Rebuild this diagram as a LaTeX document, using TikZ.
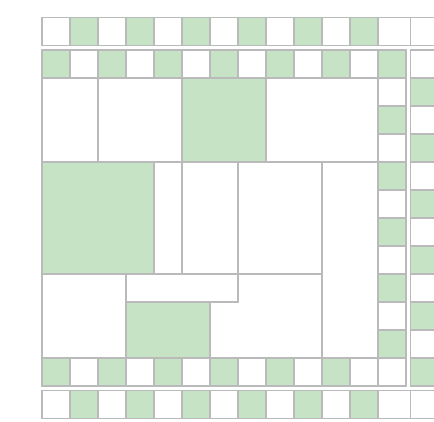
\documentclass[tikz,border=0pt]{standalone}
\usepackage{xcolor}
\usepackage{tikz}
\definecolor{cellgreen}{RGB}{198,228,197}
\definecolor{cellline}{RGB}{186,186,186}

\begin{document}
\begin{tikzpicture}[x=0.7cm, y=-0.7cm,
  cellbox/.style={draw=cellline, line width=0.8pt, fill=white},
  greencell/.style={cellbox, fill=cellgreen}
]
\def\g{0.15}
\fill[white] (-1.5,-2.786) rectangle (14,12.25);
\useasboundingbox (-1.5,-2.786) rectangle (14,12.25);
\begin{scope}
\clip (-1.5,-2.786) rectangle (14,12.25);
\foreach \i in {0,2,...,10} {
  \draw[cellbox] (\i,-2-\g) rectangle ++(1,1);
  \draw[greencell] (\i+1,-2-\g) rectangle ++(1,1);
  \draw[greencell] (\i,-1) rectangle ++(1,1);
  \draw[cellbox] (\i+1,-1) rectangle ++(1,1);
  \draw[greencell] (\i,10) rectangle ++(1,1);
  \draw[cellbox] (\i+1,10) rectangle ++(1,1);
  \draw[cellbox] (\i,11+\g) rectangle ++(1,1);
  \draw[greencell] (\i+1,11+\g) rectangle ++(1,1);
}
\foreach \k in {0,2,...,8} {
  \draw[cellbox] (12,\k) rectangle ++(1,1);
  \draw[greencell] (12,\k+1) rectangle ++(1,1);
  \draw[greencell] (13+\g,\k) rectangle ++(1,1);
  \draw[cellbox] (13+\g,\k+1) rectangle ++(1,1);
}
\draw[cellbox] (12,-2-\g) rectangle (13+\g,-1-\g);
\draw[cellbox] (13+\g,-2-\g) rectangle ++(1,1);
\draw[greencell] (12,-1) rectangle ++(1,1);
\draw[cellbox] (13+\g,-1) rectangle ++(1,1);
\draw[cellbox] (12,10) rectangle ++(1,1);
\draw[greencell] (13+\g,10) rectangle ++(1,1);
\draw[cellbox] (12,11+\g) rectangle (13+\g,12+\g);
\draw[cellbox] (13+\g,11+\g) rectangle ++(1,1);
\foreach \a/\b/\c/\d in {0/0/2/3, 2/0/5/3, 8/0/12/3, 4/3/5/7, 5/3/7/7, 7/3/10/7, 10/3/12/10, 0/7/3/10, 3/7/7/8}
  \draw[cellbox] (\a,\b) rectangle (\c,\d);
\foreach \a/\b/\c/\d in {5/0/8/3, 0/3/4/7, 3/8/6/10}
  \draw[greencell] (\a,\b) rectangle (\c,\d);
\draw[cellline, line width=0.8pt] (0,0) rectangle (12,10);
\end{scope}
\end{tikzpicture}
\end{document}
